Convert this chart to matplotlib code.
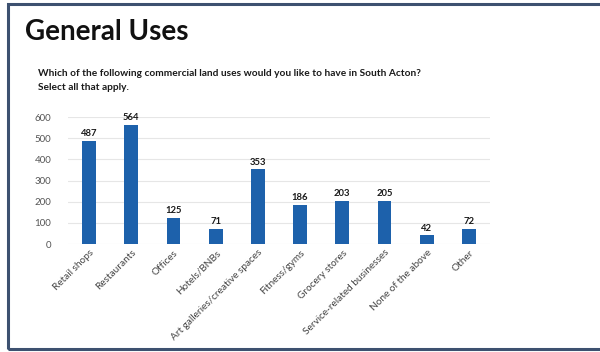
import matplotlib.pyplot as plt
from matplotlib.patches import Rectangle

# Survey responses: commercial land uses wanted in South Acton
uses = ['Retail shops', 'Restaurants', 'Offices', 'Hotels/BNBs',
        'Art galleries/creative spaces', 'Fitness/gyms', 'Grocery stores',
        'Service-related businesses', 'None of the above', 'Other']
counts = [487, 564, 125, 71, 353, 186, 203, 205, 42, 72]
y_ticks = [0, 100, 200, 300, 400, 500, 600]

plt.rcParams['font.family'] = ['Lato', 'DejaVu Sans']

W, H = 600, 352
fig = plt.figure(figsize=(W / 100, H / 100), dpi=100)
fig.patch.set_facecolor('white')

# slide frame
fig.patches.append(Rectangle((8 / W, 1 - 349 / H), 1.2, (349 - 4) / H,
                             transform=fig.transFigure, fill=False,
                             edgecolor='#3d5170', linewidth=2.2))

fig.text(25 / W, 1 - 32 / H, 'General Uses', fontsize=20, fontweight='bold',
         color='#111111', va='center', ha='left')
fig.text(38 / W, 1 - 73 / H,
         'Which of the following commercial land uses would you like to have in South Acton?',
         fontsize=7.3, fontweight='bold', color='#1a1a1a', va='center', ha='left')
fig.text(38 / W, 1 - 87 / H, 'Select all that apply.',
         fontsize=7.3, fontweight='bold', color='#1a1a1a', va='center', ha='left')

ax = fig.add_axes([68 / W, 1 - 244 / H, (490 - 68) / W, (244 - 117) / H])
x = range(len(uses))
bars = ax.bar(x, counts, width=0.33, color='#1d61ab', zorder=3)
for bar, c in zip(bars, counts):
    ax.text(bar.get_x() + bar.get_width() / 2, c + 12, str(c),
            ha='center', va='bottom', fontsize=6.8, fontweight='bold', color='#1a1a1a')

ax.set_xlim(-0.5, len(uses) - 0.5)
ax.set_ylim(0, 600)
ax.set_yticks(y_ticks)
ax.set_yticklabels([str(t) for t in y_ticks], fontsize=7, color='#555555')
ax.set_xticks(list(x))
ax.set_xticklabels(uses, rotation=45, ha='right', rotation_mode='anchor',
                   fontsize=7.2, color='#444444')
ax.tick_params(axis='both', length=0)
ax.tick_params(axis='y', pad=12)
ax.tick_params(axis='x', pad=3)
ax.grid(axis='y', color='#e6e6e6', linewidth=0.8, zorder=0)
for s in ax.spines.values():
    s.set_visible(False)

fig.savefig('out.png', dpi=100)
